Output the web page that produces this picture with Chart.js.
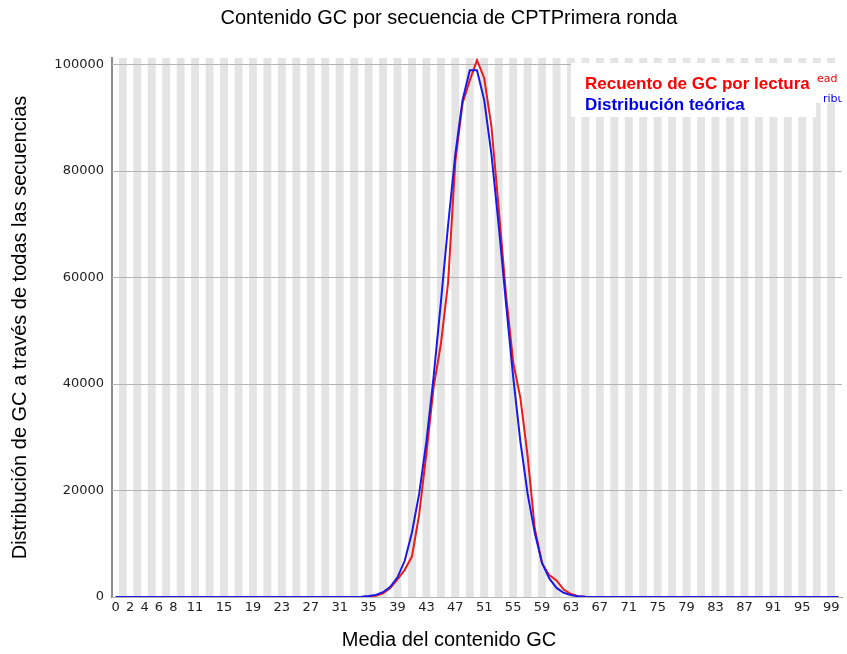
<!DOCTYPE html>
<html lang="es">
<head>
<meta charset="utf-8">
<title>Contenido GC por secuencia</title>
<script src="https://cdn.jsdelivr.net/npm/chart.js@4.4.1/dist/chart.umd.min.js"></script>
<style>
  html, body { margin: 0; padding: 0; background: #fff; }
  #wrap { position: relative; width: 847px; height: 654px; }
</style>
</head>
<body>
<div id="wrap"><canvas id="chart-gc"></canvas></div>
<script>
// ─── Datos: % GC medio por lectura (0–100) ───────────────────────────────────
const GC_PERCENT = [
  "0","1","2","3","4","5","6","7","8","9",
  "10","11","12","13","14","15","16","17","18","19",
  "20","21","22","23","24","25","26","27","28","29",
  "30","31","32","33","34","35","36","37","38","39",
  "40","41","42","43","44","45","46","47","48","49",
  "50","51","52","53","54","55","56","57","58","59",
  "60","61","62","63","64","65","66","67","68","69",
  "70","71","72","73","74","75","76","77","78","79",
  "80","81","82","83","84","85","86","87","88","89",
  "90","91","92","93","94","95","96","97","98","99",
  "100"
];

// Recuento observado por lectura
const GC_COUNT = [
  0, 0, 0, 0, 0, 0, 0, 0, 0, 0,
  0, 0, 0, 0, 0, 0, 0, 0, 0, 0,
  0, 0, 0, 0, 0, 0, 0, 0, 0, 0,
  0, 0, 0, 0, 20, 80, 250, 700, 1700, 3300,
  5100, 7600, 15500, 27000, 39400, 47500, 59000, 81800, 92700, 97000,
  100800, 97400, 88300, 73000, 57000, 44100, 37400, 26500, 12800, 6300,
  4100, 3100, 1400, 550, 150, 40, 0, 0, 0, 0,
  0, 0, 0, 0, 0, 0, 0, 0, 0, 0,
  0, 0, 0, 0, 0, 0, 0, 0, 0, 0,
  0, 0, 0, 0, 0, 0, 0, 0, 0, 0,
  0
];

// Distribución teórica ajustada
const GC_THEORETICAL = [
  0, 0, 0, 0, 0, 0, 0, 0, 0, 0,
  0, 0, 0, 0, 0, 0, 0, 0, 0, 0,
  0, 0, 0, 0, 0, 0, 0, 0, 0, 0,
  0, 0, 0, 20, 60, 170, 400, 900, 1900, 3700,
  6800, 12100, 19400, 29200, 41400, 55300, 69800, 83100, 93300, 98900,
  98900, 93300, 83100, 69800, 55300, 41400, 29200, 19400, 12000, 6400,
  3500, 1700, 800, 350, 130, 40, 0, 0, 0, 0,
  0, 0, 0, 0, 0, 0, 0, 0, 0, 0,
  0, 0, 0, 0, 0, 0, 0, 0, 0, 0,
  0, 0, 0, 0, 0, 0, 0, 0, 0, 0,
  0
];

const X_TICK_LABELS = [
  "0","2","4","6","8","11","15","19","23","27","31","35","39","43",
  "47","51","55","59","63","67","71","75","79","83","87","91","95","99"
];
const Y_TICKS = [0, 20000, 40000, 60000, 80000, 100000];
const Y_MAX = 101200;

const TITLE = "Contenido GC por secuencia de CPTPrimera ronda";
const X_TITLE = "Media del contenido GC";
const Y_TITLE = "Distribución de GC a través de todas las secuencias";
const SERIES_LABELS = ["Recuento de GC por lectura", "Distribución teórica"];
const SERIES_COLORS = ["#ee1a1a", "#1a1ae8"];
const LEGEND_TEXT_COLORS = ["#ff0000", "#0000f0"];
// restos de la leyenda original que asoman por la derecha
const LEGEND_TAILS = ["ead", "ribu"];

// franjas grises alternas, una por cada categoría impar
const stripes = GC_PERCENT.map((_, i) => (i % 2 ? Y_MAX : null));

// ─── Rejilla horizontal por encima de las franjas ────────────────────────────
const gridOverStripes = {
  id: "gridOverStripes",
  afterDatasetDraw(chart, args) {
    if (args.index !== 0) return;
    const { ctx, chartArea: a, scales: { y } } = chart;
    ctx.save();
    ctx.strokeStyle = "#b4b4b4";
    ctx.lineWidth = 1;
    y.ticks.forEach(t => {
      const py = Math.round(y.getPixelForValue(t.value)) + 0.5;
      ctx.beginPath();
      ctx.moveTo(a.left, py);
      ctx.lineTo(a.right, py);
      ctx.stroke();
    });
    ctx.restore();
  }
};

// ─── Leyenda dentro del área del gráfico ─────────────────────────────────────
const boxLegend = {
  id: "boxLegend",
  afterDatasetsDraw(chart) {
    const { ctx, chartArea: a } = chart;
    ctx.save();
    ctx.beginPath();
    ctx.rect(a.left, a.top, a.right - a.left, a.bottom - a.top);
    ctx.clip();

    ctx.fillStyle = "#fff";
    ctx.fillRect(810, 63, a.right - 810, 40);
    ctx.font = "11px 'DejaVu Sans'";
    ctx.textBaseline = "alphabetic";
    ctx.fillStyle = LEGEND_TEXT_COLORS[0];
    ctx.fillText(LEGEND_TAILS[0], 817, 82);
    ctx.fillStyle = LEGEND_TEXT_COLORS[1];
    ctx.fillText(LEGEND_TAILS[1], 823, 102);

    ctx.fillStyle = "#fff";
    ctx.fillRect(571, 63, 245, 54);
    ctx.font = "bold 17px 'Liberation Sans', Arial, sans-serif";
    SERIES_LABELS.forEach((label, i) => {
      ctx.fillStyle = LEGEND_TEXT_COLORS[i];
      ctx.fillText(label, 585, 89 + i * 21);
    });
    ctx.restore();
  }
};

// ─── Título del gráfico y del eje X ──────────────────────────────────────────
const headings = {
  id: "headings",
  afterDraw(chart) {
    const { ctx } = chart;
    ctx.save();
    ctx.fillStyle = "#000";
    ctx.font = "20px 'Liberation Sans', Arial, sans-serif";
    ctx.textAlign = "center";
    ctx.textBaseline = "middle";
    ctx.fillText(TITLE, 449, 18);
    ctx.fillText(X_TITLE, 449, 640);
    ctx.restore();
  }
};

const tickFont = { family: "'DejaVu Sans'", size: 13 };

new Chart(document.getElementById("chart-gc"), {
  type: "bar",
  data: {
    labels: GC_PERCENT,
    datasets: [
      {
        type: "bar",
        data: stripes,
        backgroundColor: "#e4e4e4",
        borderWidth: 0,
        barPercentage: 1,
        categoryPercentage: 1,
        order: 3
      },
      {
        type: "line",
        label: SERIES_LABELS[0],
        data: GC_COUNT,
        borderColor: SERIES_COLORS[0],
        borderWidth: 2,
        pointRadius: 0,
        tension: 0,
        order: 2
      },
      {
        type: "line",
        label: SERIES_LABELS[1],
        data: GC_THEORETICAL,
        borderColor: SERIES_COLORS[1],
        borderWidth: 2,
        pointRadius: 0,
        tension: 0,
        order: 1
      }
    ]
  },
  options: {
    responsive: true,
    maintainAspectRatio: false,
    animation: false,
    layout: { padding: { top: 58, right: 5, bottom: 0, left: 0 } },
    plugins: {
      legend: { display: false },
      title: { display: false },
      tooltip: { enabled: false }
    },
    scales: {
      x: {
        type: "category",
        offset: true,
        grid: { display: false, drawTicks: false },
        border: { color: "#8c8c8c", width: 1 },
        ticks: {
          autoSkip: false,
          maxRotation: 0,
          minRotation: 0,
          padding: 3,
          color: "#222",
          font: tickFont,
          callback: (v, i) => (X_TICK_LABELS.includes(GC_PERCENT[i]) ? GC_PERCENT[i] : "")
        },
        afterFit: s => { s.height = 57; }
      },
      y: {
        min: 0,
        max: Y_MAX,
        grid: { display: false, drawTicks: false },
        border: { color: "#8c8c8c", width: 2 },
        afterBuildTicks: s => { s.ticks = Y_TICKS.map(v => ({ value: v })); },
        ticks: {
          padding: 8,
          color: "#222",
          font: tickFont,
          callback: v => String(v)
        },
        title: {
          display: true,
          text: Y_TITLE,
          color: "#000",
          font: { family: "'Liberation Sans', Arial, sans-serif", size: 20 },
          padding: { top: 8, bottom: 0 }
        },
        afterFit: s => { s.width = 112; }
      }
    }
  },
  plugins: [gridOverStripes, boxLegend, headings]
});
</script>
</body>
</html>
